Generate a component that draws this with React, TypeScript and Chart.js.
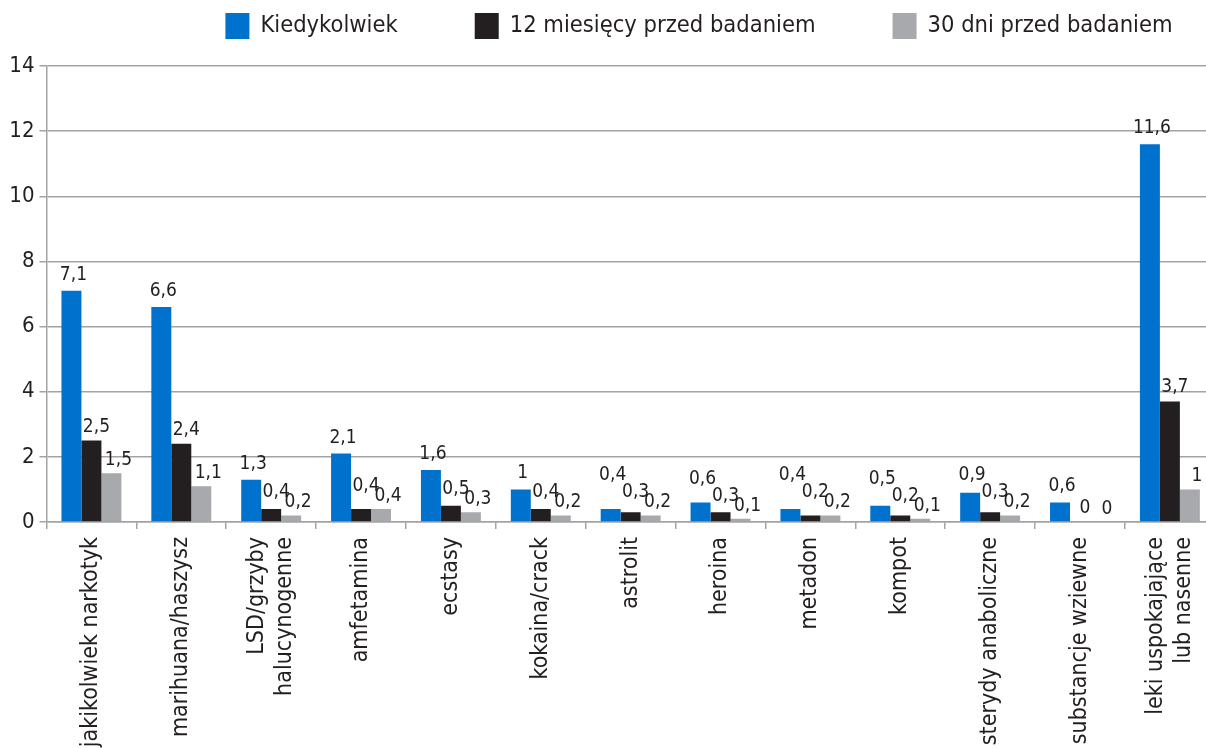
import React, { useEffect, useRef } from "react";
import { Chart, registerables } from "chart.js";

Chart.register(...registerables);

const categories: (string | string[])[] = [
  "jakikolwiek narkotyk",
  "marihuana/haszysz",
  ["LSD/grzyby", "halucynogenne"],
  "amfetamina",
  "ecstasy",
  "kokaina/crack",
  "astrolit",
  "heroina",
  "metadon",
  "kompot",
  "sterydy anaboliczne",
  "substancje wziewne",
  ["leki uspokajające", "lub nasenne"],
];
const seriesNames = ["Kiedykolwiek", "12 miesięcy przed badaniem", "30 dni przed badaniem"];
const kiedykolwiek = [7.1, 6.6, 1.3, 2.1, 1.6, 1, 0.4, 0.6, 0.4, 0.5, 0.9, 0.6, 11.6];
const miesiecy12 = [2.5, 2.4, 0.4, 0.4, 0.5, 0.4, 0.3, 0.3, 0.2, 0.2, 0.3, 0, 3.7];
const dni30 = [1.5, 1.1, 0.2, 0.4, 0.3, 0.2, 0.2, 0.1, 0.2, 0.1, 0.2, 0, 1];
const yMin = 0;
const yMax = 14;
const yStep = 2;

const FONT = '"DejaVu Sans Condensed", "DejaVu Sans", sans-serif';
const TEXT = "#231f20";
const GRID = "#a3a3a3";
const COLORS = ["#0072ce", "#231f20", "#a7a9ac"];

const X_SHIFT = [2, 5, 7];
const GAP = [11, 9, 8];
const STACK = [17, 10, 0];

const labelPlugin = {
  id: "barLabels",
  afterDatasetsDraw(chart: any) {
    const ctx = chart.ctx;
    ctx.save();
    ctx.font = `19px ${FONT}`;
    ctx.fillStyle = TEXT;
    ctx.textAlign = "center";
    ctx.textBaseline = "alphabetic";
    const n = chart.data.labels.length;
    const dsCount = chart.data.datasets.length;
    for (let i = 0; i < n; i++) {
      let prev: { left: number; base: number } | null = null;
      for (let d = dsCount - 1; d >= 0; d--) {
        const el = chart.getDatasetMeta(d).data[i];
        const v = chart.data.datasets[d].data[i];
        const text = String(v).replace(".", ",");
        const w = ctx.measureText(text).width;
        const cx = el.x + X_SHIFT[d];
        let base = el.y - GAP[d];
        if (prev && cx + w / 2 > prev.left) base = Math.min(base, prev.base - STACK[d]);
        ctx.fillText(text, cx, base);
        prev = { left: cx - w / 2, base };
      }
    }
    ctx.restore();
  },
};

// centre multi-line rotated category labels on their tick
const centerLabelsPlugin = {
  id: "centerMultiLine",
  beforeDraw(chart: any) {
    const s = chart.scales.x;
    if (!s || !s.getLabelItems) return;
    const items = s.getLabelItems();
    items.forEach((it: any) => {
      if (it.__centered) return;
      if (Array.isArray(it.label) && it.label.length > 1) {
        it.textOffset -= (it.font.lineHeight * (it.label.length - 1)) / 2;
      }
      it.__centered = true;
    });
  },
};

const LEGEND_CX = 699;
const BOX_W = 24;
const BOX_H = 26;
const BOX_TOP = 13;
const BOX_GAP = 11;
const ITEM_GAP = 77;

const legendPlugin = {
  id: "topLegend",
  afterDraw(chart: any) {
    const ctx = chart.ctx;
    ctx.save();
    ctx.font = `23.5px ${FONT}`;
    const ds = chart.data.datasets;
    const widths = ds.map((d: any) => ctx.measureText(d.label).width);
    const total =
      widths.reduce((a: number, b: number) => a + b, 0) + ds.length * (BOX_W + BOX_GAP) + (ds.length - 1) * ITEM_GAP;
    let x = LEGEND_CX - total / 2;
    ds.forEach((d: any, i: number) => {
      ctx.fillStyle = d.backgroundColor;
      ctx.fillRect(x, BOX_TOP, BOX_W, BOX_H);
      ctx.fillStyle = TEXT;
      ctx.textAlign = "left";
      ctx.textBaseline = "middle";
      ctx.fillText(d.label, x + BOX_W + BOX_GAP, BOX_TOP + BOX_H / 2);
      x += BOX_W + BOX_GAP + widths[i] + ITEM_GAP;
    });
    ctx.restore();
  },
};

export default function App() {
  const ref = useRef<HTMLCanvasElement>(null);
  useEffect(() => {
    if (!ref.current) return;
    const seriesData = [kiedykolwiek, miesiecy12, dni30];
    const chart = new Chart(ref.current, {
      type: "bar",
      data: {
        labels: categories,
        datasets: seriesNames.map((name, i) => ({
          label: name,
          data: seriesData[i],
          backgroundColor: COLORS[i],
          borderWidth: 0,
          barPercentage: 1,
          categoryPercentage: 0.667,
        })),
      },
      options: {
        responsive: false,
        animation: false,
        layout: { padding: { top: 66, left: 0, right: 0, bottom: 0 } },
        plugins: {
          legend: { display: false },
          tooltip: { enabled: false },
        },
        scales: {
          x: {
            offset: true,
            grid: {
              display: true,
              offset: true,
              drawOnChartArea: false,
              drawTicks: true,
              tickLength: 7,
              color: GRID,
              lineWidth: 1.5,
            },
            border: { display: true, color: GRID, width: 1.5 },
            ticks: {
              autoSkip: false,
              maxRotation: 90,
              minRotation: 90,
              padding: 8,
              color: TEXT,
              font: { family: FONT, size: 23, lineHeight: 1.22 },
            },
            afterFit: (scale: any) => {
              scale.height = 226;
            },
          },
          y: {
            min: yMin,
            max: yMax,
            ticks: {
              stepSize: yStep,
              padding: 5,
              color: TEXT,
              font: { family: FONT, size: 22 },
            },
            grid: {
              color: GRID,
              lineWidth: 1.5,
              drawTicks: true,
              tickLength: 7,
            },
            border: { display: true, color: GRID, width: 1.5 },
            afterFit: (scale: any) => {
              scale.width = 46.5;
            },
          },
        },
      },
      plugins: [centerLabelsPlugin, labelPlugin, legendPlugin],
    });
    return () => chart.destroy();
  }, []);
  return (
    <div
      style={{
        position: "fixed",
        left: 0,
        top: 0,
        width: 1206,
        height: 748,
        overflow: "hidden",
        background: "#ffffff",
      }}
    >
      <canvas ref={ref} width={1234} height={748} style={{ display: "block", width: 1234, height: 748 }} />
    </div>
  );
}
